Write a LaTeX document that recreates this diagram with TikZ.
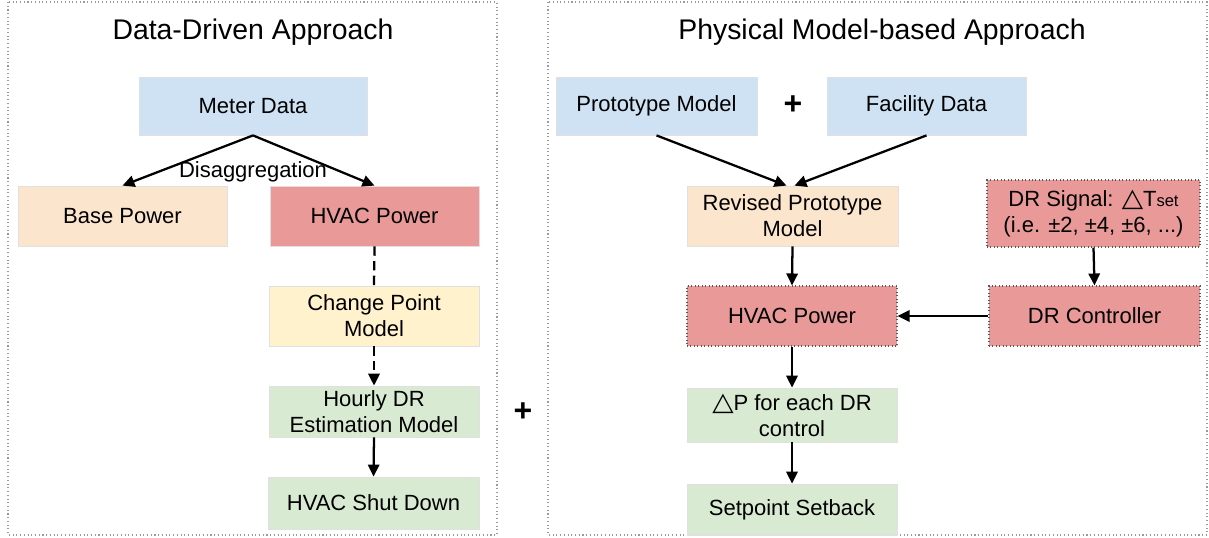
\documentclass[tikz,border=0pt]{standalone}
\usepackage{fontspec}
\setmainfont{Liberation Sans}
\newfontfamily\djv{DejaVu Sans}
\usetikzlibrary{arrows.meta}
\definecolor{cblue}{HTML}{CFE2F3}
\definecolor{corange}{HTML}{FCE5CD}
\definecolor{cred}{HTML}{EA9999}
\definecolor{cyellow}{HTML}{FFF2CC}
\definecolor{cgreen}{HTML}{D9EAD3}
\definecolor{panelgray}{HTML}{9A9A9A}
\newcommand{\wdelta}{\resizebox{16pt}{12.3pt}{\djv △}}
\begin{document}
\begin{tikzpicture}[x=0.75pt,y=-0.75pt,
  box/.style={draw=black!12, line width=0.6pt, inner sep=0pt, align=center,
    font=\fontsize{16.5}{19.5}\selectfont},
  dotbox/.style={box, draw=black!65, dotted, line width=0.8pt},
  wh/.style n args={2}{minimum width={#1*0.75pt}, minimum height={#2*0.75pt}},
  arr/.style={line width=1.7pt, -{Triangle[length=9pt,width=8.5pt]}},
  dline/.style={line width=1.7pt, dash pattern=on 7pt off 4pt},
  panel/.style={draw=panelgray, dotted, line width=0.8pt},
  title/.style={font=\fontsize{21.3}{25}\selectfont},
  plus/.style={font=\fontsize{24}{24}\selectfont\bfseries},
  lbl/.style={font=\fontsize{16.5}{19.5}\selectfont, inner sep=0pt}
]
\useasboundingbox (0,0) rectangle (1209,537);

% panels
\draw[panel] (8,2) rectangle (497,535);
\draw[panel] (548,2) rectangle (1207,535);

% titles
\node[title] (t1) at (253,32) {Data-Driven Approach};
\node[title] (t2) at (882,32) {Physical Model-based Approach};

% left panel
\node[box, fill=cblue, wh={228}{58}] (meter) at (253,106) {Meter Data};
\node[box, fill=corange, wh={209}{60}] (base) at (122.5,216) {Base Power};
\node[box, fill=cred, wh={209}{60}] (hvacL) at (374.5,216) {HVAC Power};
\node[box, fill=cyellow, wh={210}{60}] (change) at (374,316) {Change Point\\Model};
\node[box, fill=cgreen, wh={210}{51}] (hourly) at (374,411.5) {Hourly DR\\Estimation Model};
\node[box, fill=cgreen, wh={211}{52}] (shut) at (373.5,503) {HVAC Shut Down};

\draw[arr] (meter.south) -- (base.north);
\draw[arr] (meter.south) -- (hvacL.north);
\node[lbl] (disagg) at (253,172) {Disaggregation};
\draw[dline] (hvacL.south) -- (change.north);
\draw[dline, -{Triangle[length=9pt,width=8.5pt]}] (change.south) -- (hourly.north);
\draw[arr] (hourly.south) -- (shut.north);

\node[plus] (plus1) at (523,412) {+};

% right panel
\node[box, fill=cblue, wh={201}{58}] (proto) at (656.5,106) {Prototype Model};
\node[plus] (plus2) at (793,105) {+};
\node[box, fill=cblue, wh={199}{58}] (facility) at (926.5,106) {Facility Data};
\node[box, fill=corange, wh={211}{60}] (revised) at (792.5,216) {Revised Prototype\\Model};
\node[dotbox, fill=cred, wh={213}{67}] (signal) at (1093.5,213.5)
  {DR Signal: \wdelta T{\fontsize{12.4}{12.4}\selectfont set}\\(i.e. ±2, ±4, ±6, ...)};
\node[dotbox, fill=cred, wh={210}{60}] (hvacR) at (792,316) {HVAC Power};
\node[dotbox, fill=cred, wh={211}{60}] (ctrl) at (1094.5,316) {DR Controller};
\node[box, fill=cgreen, wh={210}{54}] (dp) at (792,415) {\wdelta P for each DR\\control};
\node[box, fill=cgreen, wh={210}{51}] (setp) at (792,509.5) {Setpoint Setback};

\draw[arr] (proto.south) -- ([xshift=-4.5pt]revised.north);
\draw[arr] (facility.south) -- ([xshift=1.5pt]revised.north);
\draw[arr] (revised.south) -- (hvacR.north);
\draw[arr] (signal.south) -- (ctrl.north);
\draw[arr] (ctrl.west) -- (hvacR.east);
\draw[arr] (hvacR.south) -- (dp.north);
\draw[arr] (dp.south) -- (setp.north);
\end{tikzpicture}
\end{document}
